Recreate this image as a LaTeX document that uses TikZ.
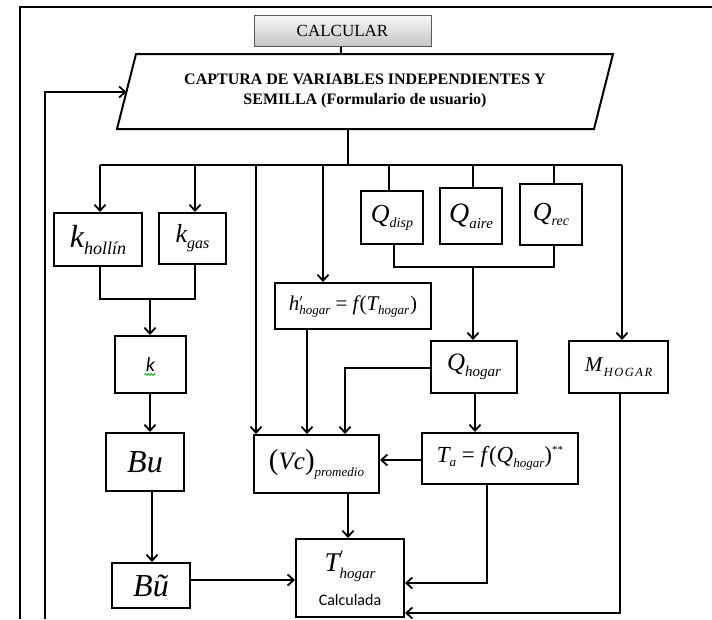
\documentclass[tikz,border=0pt]{standalone}
\usepackage{fontspec}
\setmainfont{Liberation Serif}
\newfontfamily\calib{Carlito}
\usetikzlibrary{arrows.meta,decorations.pathmorphing,calc}
\newcommand{\Fs}[1]{\fontsize{#1}{#1}\selectfont}
\newcommand{\dn}[3]{\raisebox{-#1pt}{\Fs{#2}\itshape #3}}
\newcommand{\prm}[2]{\rlap{\raisebox{#1pt}{\Fs{#2}$\prime$}}}
\tikzset{
  box/.style={draw, line width=2pt, inner sep=0pt, align=center},
  ln/.style={line width=1.9pt},
  arr/.style={ln, -{Straight Barb[length=6pt,width=11pt,line width=1.8pt]}},
}
\begin{document}
\begin{tikzpicture}[x=1pt,y=-1pt]
\useasboundingbox (0,0) rectangle (712,619);
% frame
\draw[line width=1.8pt] (20,619) -- (20,7) -- (712,7);

% CALCULAR
\node[draw=gray!70!black, line width=1pt, top color=gray!6, bottom color=gray!45,
      minimum width=177pt, minimum height=31pt, inner sep=0pt] (calc) at (342.5,30.5) {\Fs{17}CALCULAR};

% parallelogram
\coordinate (p1) at (136,54);
\coordinate (p2) at (613,54);
\coordinate (p3) at (594,129);
\coordinate (p4) at (117,129);
\draw[line width=2pt, line join=miter] (p1) -- (p2) -- (p3) -- (p4) -- cycle;
\node[align=center, inner sep=0pt, font=\fontsize{16}{20}\selectfont\bfseries] (capt) at (365,91) {CAPTURA DE VARIABLES INDEPENDIENTES Y\\ SEMILLA (Formulario de usuario)};
\coordinate (cw) at (126.5,92);
\coordinate (ctop) at (341,54);
\coordinate (cbot) at (348,129);
\draw[ln] (calc.south -| ctop) -- (ctop);

% feedback
\coordinate (fb) at (45,619);
\draw[arr] (fb) |- (cw);

% bus
\coordinate (bc) at (348,165);
\coordinate (b1) at (100,165);
\coordinate (b2) at (195,165);
\coordinate (b3) at (256,165);
\coordinate (b4) at (323,165);
\coordinate (b5) at (389,165);
\coordinate (b6) at (473,165);
\coordinate (b7) at (554,165);
\coordinate (b8) at (622,165);
\draw[ln] (cbot) -- (bc);
\draw[ln] (b1) -- (b8);

% boxes
\node[box, minimum width=88pt, minimum height=53pt] (kh) at (98,239.5) {{\Fs{32}\itshape k}\dn{7}{18}{hollín}};
\node[box, minimum width=67pt, minimum height=51pt] (kg) at (192.5,238.5) {{\Fs{26}\itshape k}\dn{6}{16}{gas}};
\node[box, minimum width=62pt, minimum height=53pt] (qd) at (392,217.5) {{\Fs{26}\itshape Q}\dn{5}{14}{disp}};
\node[box, minimum width=62pt, minimum height=56pt] (qa) at (471,216) {{\Fs{28}\itshape Q}\dn{6}{15}{aire}};
\node[box, minimum width=62pt, minimum height=61pt] (qr) at (551,214.5) {{\Fs{26}\itshape Q}\dn{5}{14}{rec}};
\node[box, minimum width=156pt, minimum height=46pt] (hh) at (353,306) {{\Fs{21}\itshape h}\prm{8}{11}\dn{4}{13}{hogar}{\Fs{21}\ =\ }{\Fs{21}\itshape f\kern1pt}{\Fs{21}(}{\Fs{21}\itshape T}\dn{4}{13}{hogar}{\Fs{21}\kern1pt)}};
\node[box, minimum width=71pt, minimum height=57pt] (k) at (150.5,364.5) {\calib\Fs{20}\itshape k};
\draw[green!65!black, line width=0.8pt, decorate, decoration={snake, amplitude=0.9pt, segment length=3pt}] ($(k.center)+(-6,10)$) -- ($(k.center)+(5,10)$);
\node[box, minimum width=86pt, minimum height=52pt] (qh) at (474,367) {{\Fs{25}\itshape Q}\dn{6}{15}{hogar}};
\node[box, minimum width=99pt, minimum height=52pt] (mh) at (618.5,367) {{\Fs{21}\itshape M}\,\dn{5}{12.5}{\addfontfeature{LetterSpace=12}HOGAR}};
\node[box, minimum width=78pt, minimum height=58pt] (bu) at (145,462) {\Fs{32}\itshape Bu};
\node[box, minimum width=125pt, minimum height=58pt] (vc) at (316.5,464) {{\Fs{29}(}{\Fs{25}\itshape Vc}{\Fs{29})}\dn{7}{13}{promedio}};
\node[box, minimum width=156pt, minimum height=51pt] (ta) at (500,458.5) {{\Fs{23}\itshape T}\dn{4}{13}{a}{\Fs{23}\ =\ }{\Fs{23}\itshape f\kern2pt}{\Fs{23}(}{\Fs{23}\itshape Q}\dn{5}{13}{hogar}{\Fs{23})}\raisebox{9pt}{\Fs{11}**}};
\node[box, minimum width=78pt, minimum height=45pt] (bt) at (151,585.5) {\Fs{32}\itshape Bũ};
\node[box, minimum width=108pt, minimum height=78pt] (tp) at (350,578) {{\Fs{27}\itshape T}\prm{14}{12}\dn{7}{15}{hogar}\\[12pt]{\calib\Fs{16}Calculada}};

% drops from bus
\draw[arr] (b1) -- (b1 |- kh.north);
\draw[arr] (b2) -- (b2 |- kg.north);
\draw[arr] (b3) -- (b3 |- vc.north);
\draw[arr] (b4) -- (b4 |- hh.north);
\draw[ln] (b5) -- (b5 |- qd.north);
\draw[ln] (b6) -- (b6 |- qa.north);
\draw[ln] (b7) -- (b7 |- qr.north);
\draw[arr] (b8) -- (b8 |- mh.north);

% k merge
\coordinate (m1) at (100,299);
\coordinate (m2) at (195,299);
\coordinate (mk) at (150,299);
\draw[ln] (kh.south -| m1) -- (m1) -- (m2) -- (kg.south -| m2);
\draw[arr] (mk) -- (mk |- k.north);

% Q merge
\coordinate (q1) at (394,267);
\coordinate (q2) at (473,267);
\coordinate (q3) at (554,267);
\draw[ln] (qd.south -| q1) -- (q1) -- (q3) -- (qr.south -| q3);
\draw[arr] (q2) -- (q2 |- qh.north);

% left column
\draw[arr] (k.south -| mk) -- (bu.north -| mk);
\coordinate (xb) at (152,0);
\draw[arr] (bu.south -| xb) -- (bt.north -| xb);

% into Vc
\coordinate (qv) at (345,368);
\draw[arr] (qh.west |- qv) -- (qv) -- (qv |- vc.north);
\coordinate (hx) at (307,0);
\draw[arr] (hh.south -| hx) -- (vc.north -| hx);
\coordinate (tx) at (475,0);
\draw[arr] (qh.south -| tx) -- (ta.north -| tx);
\coordinate (ty) at (0,460);
\draw[arr] (ta.west |- ty) -- (vc.east |- ty);

% into T'
\draw[arr] (vc.south -| bc) -- (tp.north -| bc);
\coordinate (by) at (0,580);
\draw[arr] (bt.east |- by) -- (tp.west |- by);
\coordinate (tc) at (487,583);
\draw[arr] (ta.south -| tc) -- (tc) -- (tp.east |- tc);
\coordinate (mc) at (620,613);
\draw[arr] (mh.south -| mc) -- (mc) -- (tp.east |- mc);
\end{tikzpicture}
\end{document}
